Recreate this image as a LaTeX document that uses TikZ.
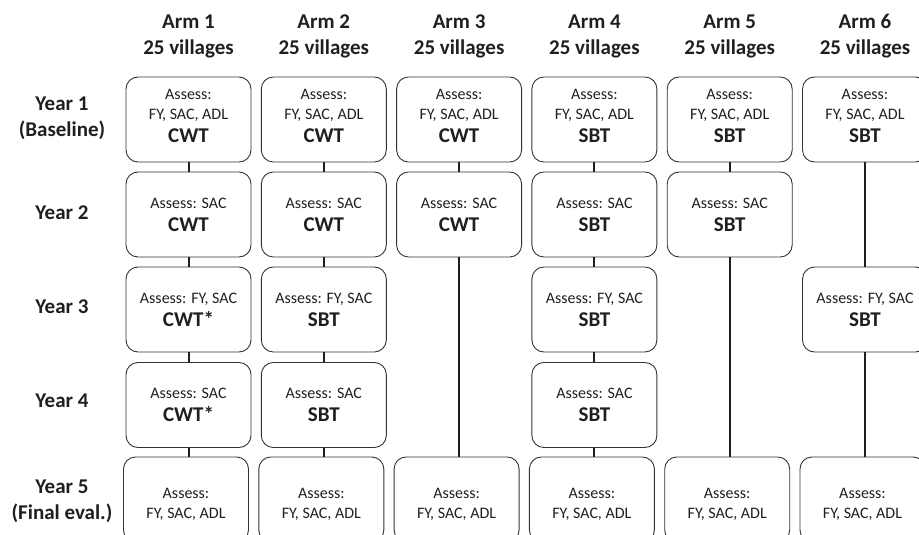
\documentclass[tikz,border=0pt]{standalone}
\usepackage{fontspec}
\setmainfont{Carlito}
\usepackage{tikz}

\newcommand\trt[1]{{\fontsize{21}{21}\selectfont\bfseries #1}}

\begin{document}
\begin{tikzpicture}[x=1pt,y=-1pt,
    box/.style={draw=black!80, line width=0.9pt, rounded corners=12pt,
        minimum width=125pt, minimum height=85pt, inner sep=0pt,
        align=center, text=black!88, font=\fontsize{16}{20}\selectfont},
    hd/.style={align=center, text=black!88, font=\fontsize{21}{26}\selectfont\bfseries},
    link/.style={draw=black!88, line width=2pt}]
\useasboundingbox (0,0) rectangle (919,535);

% arms and years
\foreach \i in {1,...,6}
    \node[hd] (arm\i) at ({188.5+135.3*(\i-1)},36) {Arm \i\\25 villages};
\node[hd] (yr1) at (62,118) {Year 1\\(Baseline)};
\node[hd] (yr2) at (62,213) {Year 2};
\node[hd] (yr3) at (62,307) {Year 3};
\node[hd] (yr4) at (62,401) {Year 4};
\node[hd] (yr5) at (62,501) {Year 5\\(Final eval.)};

% year 1
\node[box] (a1y1) at (188.5,119.5) {Assess:\\FY, SAC, ADL\\[3pt]\trt{CWT}\\[-12pt]};
\node[box] (a2y1) at (323.8,119.5) {Assess:\\FY, SAC, ADL\\[3pt]\trt{CWT}\\[-12pt]};
\node[box] (a3y1) at (459.1,119.5) {Assess:\\FY, SAC, ADL\\[3pt]\trt{CWT}\\[-12pt]};
\node[box] (a4y1) at (594.4,119.5) {Assess:\\FY, SAC, ADL\\[3pt]\trt{SBT}\\[-12pt]};
\node[box] (a5y1) at (729.7,119.5) {Assess:\\FY, SAC, ADL\\[3pt]\trt{SBT}\\[-12pt]};
\node[box] (a6y1) at (865.0,119.5) {Assess:\\FY, SAC, ADL\\[3pt]\trt{SBT}\\[-12pt]};
% year 2
\node[box] (a1y2) at (188.5,214.5) {Assess: SAC\\[3pt]\trt{CWT}};
\node[box] (a2y2) at (323.8,214.5) {Assess: SAC\\[3pt]\trt{CWT}};
\node[box] (a3y2) at (459.1,214.5) {Assess: SAC\\[3pt]\trt{CWT}};
\node[box] (a4y2) at (594.4,214.5) {Assess: SAC\\[3pt]\trt{SBT}};
\node[box] (a5y2) at (729.7,214.5) {Assess: SAC\\[3pt]\trt{SBT}};
% year 3
\node[box] (a1y3) at (188.5,309.5) {Assess: FY, SAC\\[3pt]\trt{CWT*}};
\node[box] (a2y3) at (323.8,309.5) {Assess: FY, SAC\\[3pt]\trt{SBT}};
\node[box] (a4y3) at (594.4,309.5) {Assess: FY, SAC\\[3pt]\trt{SBT}};
\node[box] (a6y3) at (865.0,309.5) {Assess: FY, SAC\\[3pt]\trt{SBT}};
% year 4
\node[box] (a1y4) at (188.5,405) {Assess: SAC\\[3pt]\trt{CWT*}};
\node[box] (a2y4) at (323.8,405) {Assess: SAC\\[3pt]\trt{SBT}};
\node[box] (a4y4) at (594.4,405) {Assess: SAC\\[3pt]\trt{SBT}};
% year 5
\foreach \i in {1,...,6}
    \node[box] (a\i y5) at ({186+135.3*(\i-1)},499.5) {\\[1pt]Assess:\\FY, SAC, ADL};

% links
\foreach \a in {1,2,4}
    \foreach \r [count=\s from 2] in {1,...,3}
        \draw[link] (a\a y\r) -- (a\a y\s);
\foreach \a in {1,2,4}
    \draw[link] (a\a y4) -- (a\a y4 |- a\a y5.north);
\draw[link] (a3y1) -- (a3y2);
\draw[link] (a3y2) -- (a3y2 |- a3y5.north);
\draw[link] (a5y1) -- (a5y2);
\draw[link] (a5y2) -- (a5y2 |- a5y5.north);
\draw[link] (a6y1) -- (a6y3);
\draw[link] (a6y3) -- (a6y3 |- a6y5.north);

\end{tikzpicture}
\end{document}
